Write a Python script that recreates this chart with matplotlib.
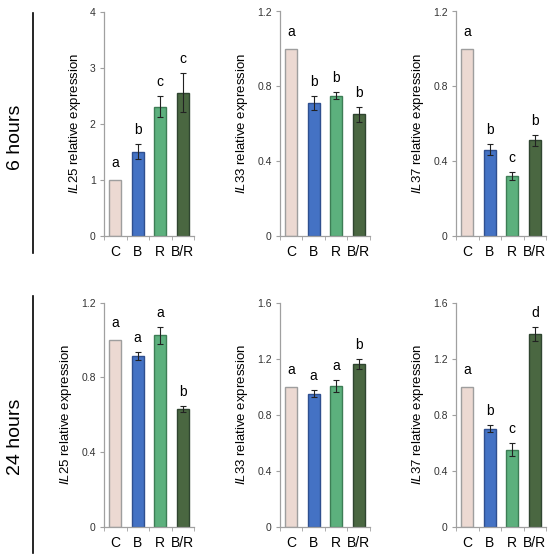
import matplotlib
matplotlib.use("Agg")
import matplotlib.pyplot as plt
from matplotlib.lines import Line2D
import numpy as np

plt.rcParams['font.family'] = ['Liberation Sans', 'DejaVu Sans']
plt.rcParams['mathtext.fontset'] = 'custom'
plt.rcParams['mathtext.rm'] = 'Liberation Sans'
plt.rcParams['mathtext.it'] = 'Liberation Sans:italic'

categories = ['C', 'B', 'R', 'B/R']
genes = ['IL25', 'IL33', 'IL37']
row_labels = ['6 hours', '24 hours']

# 6 hours
il25_6h = [1.0, 1.50, 2.30, 2.55]
il25_6h_err = [0.0, 0.14, 0.19, 0.35]
il25_6h_sig = ['a', 'b', 'c', 'c']
il33_6h = [1.0, 0.71, 0.75, 0.65]
il33_6h_err = [0.0, 0.04, 0.02, 0.04]
il33_6h_sig = ['a', 'b', 'b', 'b']
il37_6h = [1.0, 0.46, 0.32, 0.51]
il37_6h_err = [0.0, 0.03, 0.02, 0.03]
il37_6h_sig = ['a', 'b', 'c', 'b']

# 24 hours
il25_24h = [1.0, 0.915, 1.025, 0.63]
il25_24h_err = [0.0, 0.02, 0.045, 0.015]
il25_24h_sig = ['a', 'a', 'a', 'b']
il33_24h = [1.0, 0.95, 1.005, 1.165]
il33_24h_err = [0.0, 0.025, 0.04, 0.035]
il33_24h_sig = ['a', 'a', 'a', 'b']
il37_24h = [1.0, 0.70, 0.55, 1.38]
il37_24h_err = [0.0, 0.025, 0.045, 0.05]
il37_24h_sig = ['a', 'b', 'c', 'd']

yticks_6h = [[0, 1, 2, 3, 4], [0, 0.4, 0.8, 1.2], [0, 0.4, 0.8, 1.2]]
yticks_24h = [[0, 0.4, 0.8, 1.2], [0, 0.4, 0.8, 1.2, 1.6], [0, 0.4, 0.8, 1.2, 1.6]]

bar_colors = ['#ECD9D2', '#4472C4', '#5CB07D', '#4A6741']
edge_colors = ['#9E9E9E', '#2F4F8F', '#3D7D55', '#2F4530']

panels = [
    [(il25_6h, il25_6h_err, il25_6h_sig), (il33_6h, il33_6h_err, il33_6h_sig), (il37_6h, il37_6h_err, il37_6h_sig)],
    [(il25_24h, il25_24h_err, il25_24h_sig), (il33_24h, il33_24h_err, il33_24h_sig), (il37_24h, il37_24h_err, il37_24h_sig)],
]
ticks_rows = [yticks_6h, yticks_24h]

W, H = 550, 557
fig = plt.figure(figsize=(W / 100, H / 100), dpi=100)

lefts = [104, 280, 456]
ax_w = 90
row_tops = [11.5, 302.7]
ax_h = 224

def fmt(v):
    if float(v).is_integer():
        return str(int(v))
    return ('%g' % v)

for r in range(2):
    for c in range(3):
        vals, errs, sig = panels[r][c]
        yt = ticks_rows[r][c]
        ax = fig.add_axes([lefts[c] / W, 1 - (row_tops[r] + ax_h) / H, ax_w / W, ax_h / H])
        x = np.arange(len(categories))
        ax.bar(x, vals, width=0.54, color=bar_colors, edgecolor=edge_colors, linewidth=1.0, zorder=2)
        idx = [i for i, er in enumerate(errs) if er > 0]
        ax.errorbar(x[idx], [vals[i] for i in idx], yerr=[errs[i] for i in idx], fmt='none',
                    ecolor='#222222', elinewidth=0.8, capsize=2, capthick=0.8, zorder=3)
        ax.set_xlim(-0.5, len(categories) - 0.5)
        ax.set_ylim(yt[0], yt[-1])
        ax.set_yticks(yt)
        ax.set_yticklabels([fmt(t) for t in yt], fontsize=7.5, color='#333333')
        ax.set_xticks(x)
        ax.set_xticklabels(categories, fontsize=10)
        ax.set_xticks(np.arange(-0.5, len(categories), 1.0), minor=True)
        ax.tick_params(axis='x', which='major', length=0, pad=7)
        ax.tick_params(axis='x', which='minor', length=3, color='#A0A0A0', direction='out')
        ax.tick_params(axis='y', length=3, color='#A0A0A0', pad=3)
        for s in ['top', 'right']:
            ax.spines[s].set_visible(False)
        for s in ['left', 'bottom']:
            ax.spines[s].set_color('#A0A0A0')
            ax.spines[s].set_linewidth(0.9)
        ax.set_ylabel(r'$\mathit{' + genes[c] + r'}$ relative expression', fontsize=9.5, labelpad=5)
        for i, (v, er, s) in enumerate(zip(vals, errs, sig)):
            off = 5 if er > 0 else 7
            ax.annotate(s, (x[i], v + er), xytext=(0, off), textcoords='offset points',
                        ha='center', va='bottom', fontsize=10)

# row labels and separators
for r, (lab, ty, y0, y1) in enumerate(zip(row_labels, [137, 437], [13, 296], [253, 553])):
    fig.add_artist(Line2D([33 / W, 33 / W], [1 - y0 / H, 1 - y1 / H], color='black', linewidth=1.2))
    fig.text(15 / W, 1 - ty / H, lab, rotation=90, ha='center', va='center', fontsize=14)

fig.savefig('out.png', dpi=100)
